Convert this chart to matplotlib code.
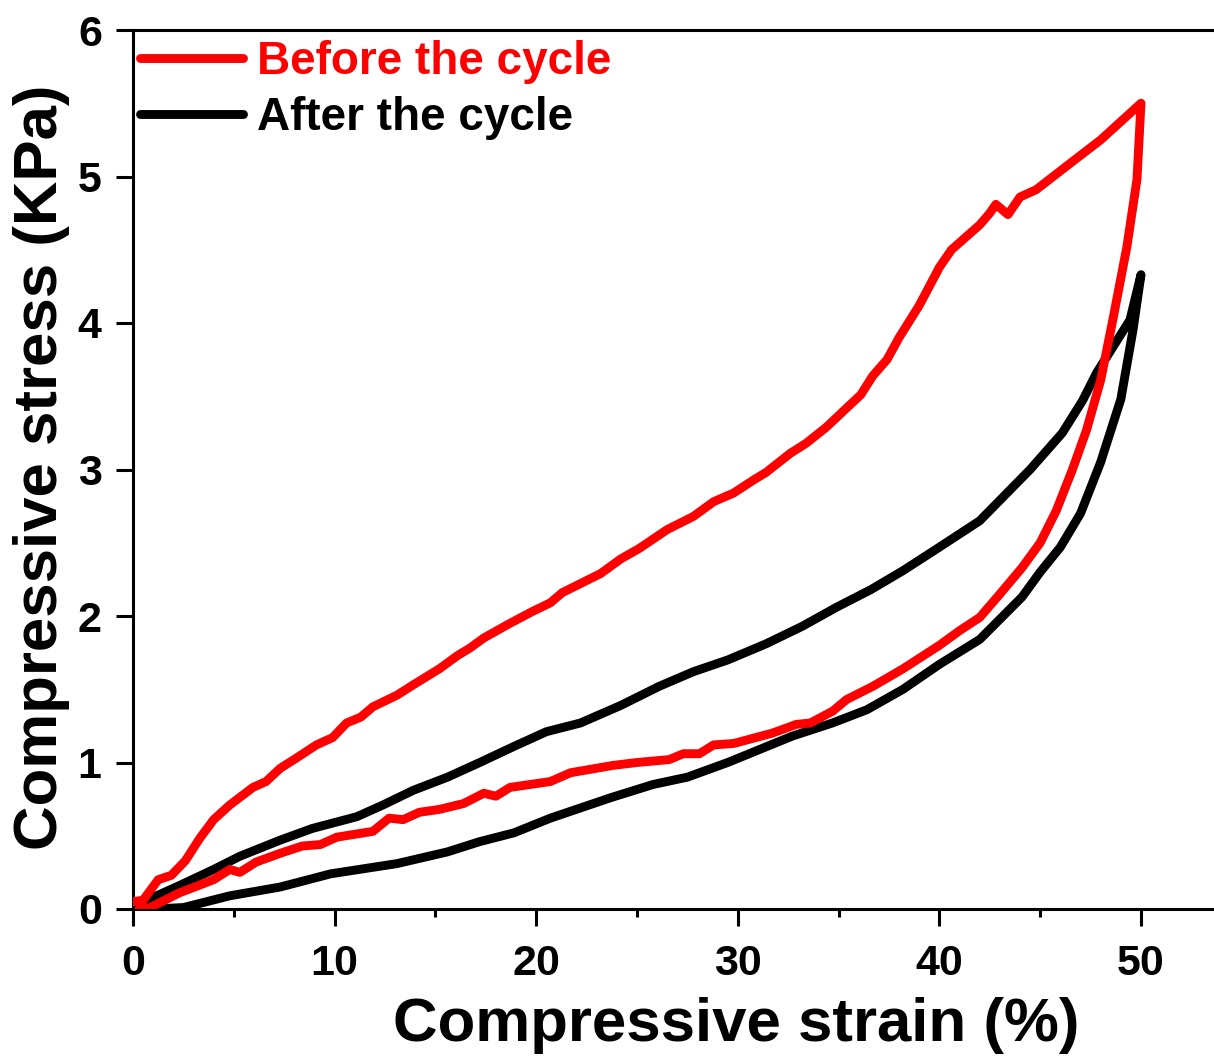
import matplotlib
matplotlib.use("Agg")
import matplotlib.pyplot as plt
from matplotlib.ticker import MultipleLocator
import numpy as np

plt.rcParams['font.family'] = ['Liberation Sans', 'DejaVu Sans']
plt.rcParams['font.weight'] = 'bold'

# ---- data ----
before_load_x = [0, 0.5, 1.25, 1.9, 2.6, 3.3, 4.0, 4.8, 5.95, 6.6, 7.3, 8.1, 9.1, 9.9, 10.6, 11.3,
                 11.9, 13.1, 13.9, 15.2, 16.1, 16.7, 17.4, 18.7, 19.8, 20.7, 21.3, 23.2, 24.2, 25.1,
                 26.5, 27.8, 28.8, 29.8, 30.8, 31.4, 32.6, 33.4, 34.4, 35.4, 36.1, 36.7, 37.4, 38.0,
                 39.0, 40.0, 40.6, 42.0, 42.5, 42.8, 43.4, 44.0, 44.8, 46.3, 48.0, 50.0]
before_load_y = [0.05, 0.06, 0.2, 0.23, 0.33, 0.48, 0.61, 0.71, 0.83, 0.87, 0.96, 1.03, 1.12, 1.17,
                 1.27, 1.31, 1.38, 1.46, 1.53, 1.64, 1.73, 1.78, 1.85, 1.95, 2.03, 2.09, 2.16, 2.29,
                 2.39, 2.46, 2.59, 2.68, 2.78, 2.84, 2.93, 2.98, 3.11, 3.18, 3.29, 3.42, 3.51, 3.64,
                 3.75, 3.9, 4.12, 4.38, 4.5, 4.67, 4.75, 4.81, 4.74, 4.86, 4.91, 5.07, 5.25, 5.5]
before_unload_x = [50.0, 49.8, 49.3, 48.6, 48.0, 47.3, 46.6, 45.8, 45.0, 44.1, 43.0, 42.0, 41.0,
                   40.0, 38.2, 36.7, 35.4, 34.7, 33.6, 32.9, 31.7, 29.8, 28.8, 28.1, 27.3, 26.6,
                   25.0, 23.8, 21.7, 20.7, 18.7, 18.0, 17.4, 16.4, 15.2, 14.2, 13.4, 12.7, 11.9,
                   10.1, 9.3, 8.4, 7.3, 6.1, 5.3, 4.8, 4.0, 2.3, 0.85, 0.3]
before_unload_y = [5.5, 4.98, 4.52, 4.02, 3.61, 3.27, 3.0, 2.72, 2.5, 2.33, 2.15, 1.99, 1.9, 1.8,
                   1.64, 1.52, 1.43, 1.35, 1.27, 1.26, 1.2, 1.13, 1.12, 1.06, 1.06, 1.02, 1.0, 0.98,
                   0.93, 0.87, 0.83, 0.77, 0.79, 0.72, 0.68, 0.66, 0.61, 0.62, 0.53, 0.49, 0.44,
                   0.43, 0.38, 0.32, 0.25, 0.27, 0.2, 0.11, 0.01, 0.0]
after_load_x = [0, 0.2, 2.3, 4.0, 5.3, 7.3, 8.9, 11.1, 12.4, 13.9, 15.6, 17.2, 18.9, 20.5, 22.2,
                24.2, 26.1, 27.8, 29.5, 31.4, 33.2, 34.9, 36.6, 38.2, 40.0, 42.0, 44.5, 46.1,
                47.1, 47.8, 49.45, 50.0]
after_load_y = [0, 0.03, 0.16, 0.27, 0.36, 0.47, 0.55, 0.63, 0.71, 0.81, 0.9, 1.0, 1.11, 1.21,
                1.27, 1.39, 1.52, 1.62, 1.7, 1.81, 1.93, 2.06, 2.18, 2.31, 2.47, 2.65, 3.0, 3.25,
                3.47, 3.66, 4.02, 4.33]
after_unload_x = [50.0, 49.6, 49.0, 48.0, 47.0, 46.0, 45.0, 44.1, 42.0, 40.0, 38.2, 36.4, 34.7,
                  32.7, 31.1, 29.5, 27.5, 25.8, 23.7, 20.7, 18.9, 17.2, 15.6, 13.1, 9.8, 7.3, 4.8,
                  2.5, 1.0, 0]
after_unload_y = [4.33, 3.95, 3.48, 3.05, 2.7, 2.47, 2.3, 2.13, 1.84, 1.67, 1.5, 1.36, 1.27,
                  1.18, 1.09, 1.0, 0.9, 0.85, 0.76, 0.62, 0.52, 0.46, 0.39, 0.31, 0.24, 0.15,
                  0.09, 0.01, 0.0, 0.0]

series_labels = ["Before the cycle", "After the cycle"]
x_ticks = [0, 10, 20, 30, 40, 50]
y_ticks = [0, 1, 2, 3, 4, 5, 6]

before_x = before_load_x + before_unload_x
before_y = before_load_y + before_unload_y
after_x = after_load_x + after_unload_x
after_y = after_load_y + after_unload_y

W, H = 1214, 1061
fig = plt.figure(figsize=(W / 100, H / 100), dpi=100)
left, right, top, bottom = 133, 1214, 30, 909
ax = fig.add_axes([left / W, 1 - bottom / H, (right - left) / W, (bottom - top) / H])

ax.plot(before_x, before_y, color='#ff0000', lw=6.4, solid_joinstyle='round',
        solid_capstyle='round', label=series_labels[0], zorder=3)
ax.plot(after_x, after_y, color='black', lw=6.4, solid_joinstyle='round',
        solid_capstyle='round', label=series_labels[1], zorder=2)

ax.set_xlim(0, (right - left) / ((1141 - 133) / 50))
ax.set_ylim(0, 6)
ax.set_xticks(x_ticks)
ax.set_yticks(y_ticks)
ax.xaxis.set_minor_locator(MultipleLocator(5))

for s in ['left', 'bottom', 'top']:
    ax.spines[s].set_linewidth(2.2)
ax.spines['right'].set_visible(False)
ax.tick_params(axis='both', which='major', direction='out', length=12.5, width=2.2,
               labelsize=31, top=False, right=False)
ax.tick_params(axis='x', which='major', pad=12.5)
ax.tick_params(axis='y', which='major', pad=10)
ax.tick_params(axis='x', which='minor', direction='out', length=6, width=2.2, top=False)
for lab in ax.get_xticklabels() + ax.get_yticklabels():
    lab.set_fontweight('bold')

fig.text(736 / W, 1 - 1025 / H, "Compressive strain (%)", fontsize=44.5, fontweight='bold',
         ha='center', va='center')
fig.text(42 / W, 1 - 467 / H, "Compressive stress (KPa)", fontsize=44.5, fontweight='bold',
         ha='center', va='center', rotation=90)

leg = ax.legend(loc='upper left', bbox_to_anchor=(0.0065, 0.989), frameon=False,
                handlelength=2.25, handletextpad=0.3, borderpad=0, borderaxespad=0,
                labelspacing=0.27, labelcolor='linecolor', prop={'weight': 'bold', 'size': 33})

fig.savefig("out.png", dpi=100)
